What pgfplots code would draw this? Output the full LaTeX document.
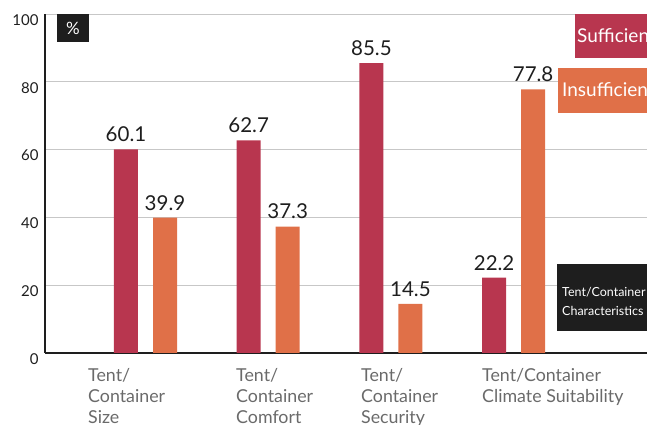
\documentclass[border=0pt]{standalone}
\usepackage{pgfplots}
\pgfplotsset{compat=1.18}
\usepackage{fontspec}
\setmainfont{Lato}
\definecolor{suff}{HTML}{B8364F}
\definecolor{insuff}{HTML}{E07048}
\definecolor{dark}{HTML}{1E1E1E}
\definecolor{lab}{HTML}{6A6A6A}
\begin{document}
\begin{tikzpicture}[x=1pt,y=1pt]
\begin{axis}[
  at={(45pt,72pt)}, anchor=south west,
  scale only axis, width=602pt, height=339pt,
  xmin=-0.819, xmax=4.087, ymin=0, ymax=100,
  ybar=15pt, bar width=24pt,
  ytick={0,20,40,60,80,100}, xtick=\empty,
  ymajorgrids, grid style={draw=black!22, line width=0.9pt},
  axis lines*=left,
  axis line style={draw=dark, line width=1.3pt},
  major tick length=0pt,
  y tick label style={font=\fontsize{15}{15}\selectfont, text=dark, yshift=-6pt, xshift=-3pt},
  /pgf/number format/assume math mode=true,
  nodes near coords,
  every node near coord/.append style={font=\fontsize{20.5}{20.5}\selectfont, text=dark, yshift=4pt, /pgf/number format/fixed, /pgf/number format/precision=1},
  clip=false,
]
\addplot[fill=suff, draw=none] coordinates {(0,60.1) (1,62.7) (2,85.5) (3,22.2)};
\addplot[fill=insuff, draw=none] coordinates {(0,39.9) (1,37.3) (2,14.5) (3,77.8)};
\end{axis}
% category labels
\begin{scope}[every node/.style={anchor=base west, inner sep=0pt, text=lab, font=\fontsize{17.8}{17.8}\selectfont}]
\node at (88,43) {Tent/};
\node at (88,22) {Container};
\node at (88,1) {Size};
\node at (236,43) {Tent/};
\node at (236,22) {Container};
\node at (236,1) {Comfort};
\node at (361,43) {Tent/};
\node at (361,22) {Container};
\node at (361,1) {Security};
\node at (482,43) {Tent/Container};
\node at (482,22) {Climate Suitability};
\end{scope}
% percent box
\fill[dark] (57,411) rectangle (89,383);
\node[text=white, font=\fontsize{17}{17}\selectfont, inner sep=0pt] at (73,397) {\%};
% legend boxes
\fill[suff] (575,411) rectangle (720,367);
\node[anchor=base west, inner sep=0pt, text=white, font=\fontsize{19}{19}\selectfont] at (577,382) {Sufficient};
\fill[insuff] (558,357) rectangle (720,312);
\node[anchor=base west, inner sep=0pt, text=white, font=\fontsize{19}{19}\selectfont] at (562,328) {Insufficient};
\fill[dark] (557,161) rectangle (720,94);
\node[anchor=base west, inner sep=0pt, text=white, font=\fontsize{12.5}{12.5}\selectfont] at (562,128) {Tent/Container};
\node[anchor=base west, inner sep=0pt, text=white, font=\fontsize{12.5}{12.5}\selectfont] at (562,109) {Characteristics};
\pgfresetboundingbox
\path[use as bounding box] (0,0) rectangle (647,425);
\end{tikzpicture}
\end{document}
